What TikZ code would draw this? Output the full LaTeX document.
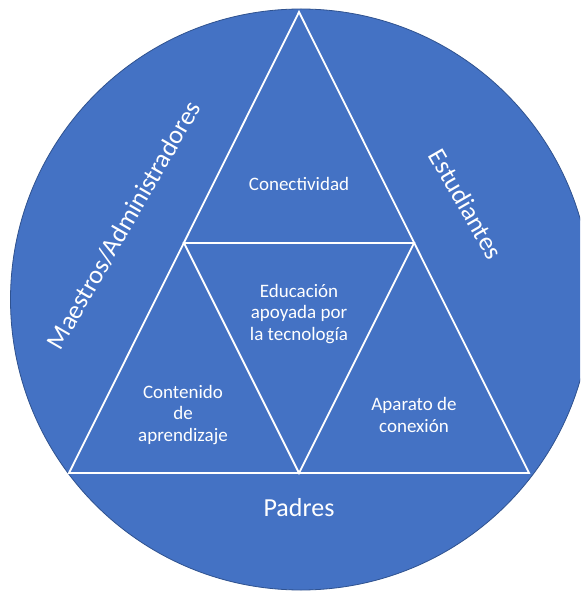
\documentclass[tikz,border=0pt]{standalone}
\usepackage{fontspec}
\setmainfont{Carlito}
\definecolor{fillblue}{HTML}{4472C4}
\definecolor{edgeblue}{HTML}{2F528F}
\tikzset{
  lbl/.style={text=white, align=center, font=\fontsize{19}{21.5}\selectfont, inner sep=0pt},
  biglbl/.style={text=white, font=\fontsize{26}{30}\selectfont, inner sep=0pt},
  tri/.style={draw=white, line width=1.8pt, line join=miter}
}
\begin{document}
\begin{tikzpicture}[x=1pt,y=-1pt]
\useasboundingbox (0,0) rectangle (580,593);
\clip (0,0) rectangle (580,593);
\fill[white] (0,0) rectangle (580,593);
\draw[fill=fillblue, draw=edgeblue, line width=0.8pt] (301,299.5) circle[radius=290.5];
% outer triangle vertices and midpoints
\coordinate (A) at (299,12);
\coordinate (B) at (69,473);
\coordinate (C) at (529,473);
\coordinate (AB) at (184,243);
\coordinate (AC) at (414,243);
\coordinate (BC) at (299,473);
\draw[tri] (A) -- (B) -- (C) -- cycle;
\draw[tri] (AB) -- (AC) -- (BC) -- cycle;
% labels
\node[lbl] (con) at (299,184) {Conectividad};
\node[lbl] (edu) at (299,314) {Educación\\apoyada por\\la tecnología};
\node[lbl] (cont) at (183,415) {Contenido\\de\\aprendizaje};
\node[lbl] (apa) at (414,415) {Aparato de\\conexión};
\node[biglbl] (pad) at (299,508) {Padres};
\node[biglbl, rotate=-60] (est) at (466,204) {Estudiantes};
\node[biglbl, rotate=60] (mae) at (124,225) {Maestros/Administradores};
\end{tikzpicture}
\end{document}
